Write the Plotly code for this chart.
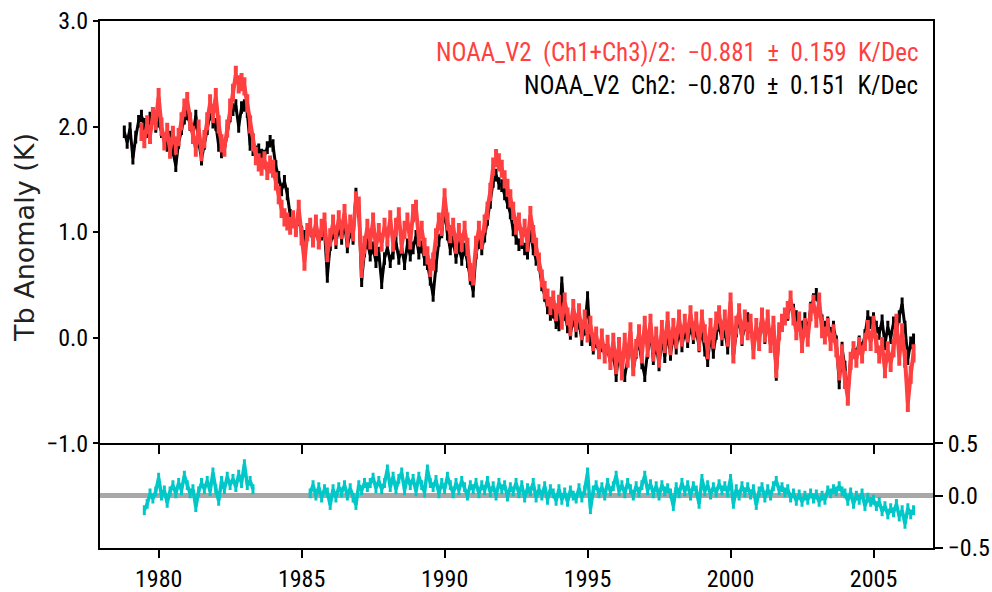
import numpy as np
import plotly.graph_objects as go

# NOAA_V2 (Ch1+Ch3)/2 brightness-temperature anomaly (K), every 0.1 yr from 1979.4
red_start = 1979.4
red_vals = [
    1.95, 1.88, 2.02, 1.92, 2.10, 2.05,
    2.28, 2.00, 1.86, 1.95, 1.78, 1.92, 1.82, 1.90, 2.05, 2.18,
    2.24, 2.05, 1.92, 1.80, 1.98, 1.76, 1.88, 2.05, 2.22, 2.12,
    2.28, 2.02, 1.84, 1.80, 1.98, 2.18, 2.32, 2.49, 2.40, 2.42,
    2.38, 2.22, 2.02, 1.85, 1.72, 1.66, 1.62, 1.68, 1.58, 1.64,
    1.60, 1.48, 1.35, 1.22, 1.14, 1.10, 1.06, 1.12, 1.04, 1.22,
    0.96, 0.72, 1.00, 1.05, 0.94, 1.08, 0.92, 1.04, 1.10, 0.80,
    0.95, 1.08, 0.96, 1.12, 1.02, 1.18, 0.94, 1.08, 1.00, 1.30,
    1.25, 0.65, 0.88, 1.04, 0.92, 1.10, 0.86, 1.00, 0.90, 1.05,
    0.95, 1.12, 0.90, 1.05, 1.15, 0.88, 1.02, 1.10, 0.92, 1.18,
    1.22, 0.95, 1.02, 0.86, 0.78, 0.66, 0.72, 0.95, 1.10, 1.05,
    1.33, 1.10, 0.98, 1.05, 0.88, 1.00, 0.90, 1.02, 0.86, 0.62,
    0.58, 0.88, 1.02, 0.92, 1.08, 1.20, 1.38, 1.62, 1.70, 1.66,
    1.60, 1.50, 1.42, 1.32, 1.20, 1.06, 1.10, 0.96, 1.04, 0.90,
    1.16, 0.98, 0.86, 0.72, 0.56, 0.45, 0.38, 0.30, 0.36, 0.24,
    0.32, 0.16, 0.34, 0.20, 0.10, 0.28, 0.14, 0.24, 0.06, 0.18,
    0.04, 0.12, -0.04, 0.02, -0.12, 0.00, -0.16, -0.06, -0.22, -0.04,
    -0.26, -0.08, -0.32, -0.04, -0.20, 0.06, -0.28, -0.10, 0.04, -0.16,
    0.12, -0.10, 0.14, -0.14, 0.02, -0.20, 0.08, -0.06, 0.16, -0.08,
    0.10, -0.02, 0.18, 0.00, 0.14, 0.04, 0.22, 0.06, 0.16, -0.04,
    0.18, 0.04, -0.12, 0.10, -0.02, 0.16, 0.22, 0.06, 0.18, 0.00,
    0.34, -0.16, 0.12, 0.24, 0.02, 0.18, 0.06, 0.14, -0.12, 0.10,
    -0.04, 0.20, 0.04, 0.18, -0.06, 0.12, -0.30, 0.06, 0.14, 0.20,
    0.26, 0.36, 0.20, 0.06, 0.16, -0.06, 0.10, 0.00, 0.24, 0.32,
    0.18, 0.34, 0.08, 0.02, 0.10, -0.04, 0.04, -0.10, -0.32, -0.15,
    -0.40, -0.56, -0.22, -0.12, -0.20, -0.08, -0.16, -0.04, 0.08, -0.04,
    0.12, -0.06, -0.16, -0.08, -0.30, -0.12, -0.24, -0.10, 0.14, -0.18,
    0.05, -0.20, -0.62, -0.35, -0.15,
]

# NOAA_V2 Ch2 anomaly (K), every 0.1 yr from 1978.8
black_start = 1978.8
black_vals = [
    1.95, 1.85,
    1.98, 1.70, 1.90, 2.05, 2.10, 2.02, 1.95, 2.08, 2.12, 2.00,
    2.05, 1.95, 1.88, 1.82, 1.90, 1.78, 1.63, 1.85, 1.98, 2.08,
    2.12, 2.02, 1.92, 2.10, 1.86, 1.69, 1.84, 1.98, 2.12, 2.04,
    2.02, 1.82, 1.76, 1.78, 1.96, 2.10, 2.16, 2.20, 2.00, 2.18,
    2.20, 2.14, 1.83, 1.78, 1.76, 1.78, 1.73, 1.72, 1.80, 1.86,
    1.82, 1.62, 1.52, 1.40, 1.48, 1.36, 1.16, 1.10, 1.04, 1.12,
    1.00, 0.96, 0.98, 1.02, 0.92, 1.04, 0.90, 0.98, 1.02, 0.58,
    0.88, 1.00, 0.90, 1.04, 0.94, 1.08, 0.86, 1.00, 0.94, 1.36,
    1.20, 0.54, 0.82, 0.90, 0.78, 0.85, 0.72, 0.80, 0.52, 0.75,
    0.85, 0.72, 0.80, 0.90, 0.75, 0.85, 0.70, 0.88, 0.78, 0.85,
    0.96, 0.80, 0.86, 0.74, 0.70, 0.55, 0.40, 0.68, 0.92, 1.00,
    1.22, 0.98, 0.84, 0.92, 0.76, 0.86, 0.74, 0.84, 0.72, 0.56,
    0.44, 0.80, 0.90, 0.84, 0.96, 1.12, 1.28, 1.48, 1.54, 1.46,
    1.44, 1.36, 1.28, 1.18, 1.02, 0.94, 0.88, 0.90, 0.84, 0.80,
    1.02, 0.84, 0.74, 0.70, 0.50, 0.40, 0.28, 0.22, 0.24, 0.14,
    0.12, 0.52, 0.22, 0.10, 0.04, 0.18, 0.06, 0.14, -0.02, 0.08,
    0.38, -0.02, -0.10, -0.04, -0.14, -0.08, -0.12, -0.10, -0.24, -0.14,
    -0.36, -0.14, -0.30, -0.36, -0.22, -0.02, -0.30, -0.14, -0.04, -0.24,
    -0.36, -0.14, 0.04, -0.20, -0.06, -0.26, 0.00, -0.18, 0.06, -0.16,
    0.02, -0.10, 0.08, -0.08, 0.06, -0.04, 0.10, 0.00, 0.06, -0.08,
    0.08, -0.12, -0.22, 0.02, -0.14, 0.04, 0.12, -0.02, 0.06, -0.10,
    0.30, -0.18, 0.06, 0.18, -0.02, 0.12, 0.18, 0.10, -0.06, 0.06,
    0.02, 0.18, 0.00, 0.16, -0.08, 0.10, -0.35, 0.04, 0.12, 0.20,
    0.22, 0.32, 0.26, 0.20, 0.14, 0.10, 0.18, 0.06, 0.28, 0.36,
    0.41, 0.30, 0.16, 0.10, 0.14, 0.04, 0.10, -0.04, -0.43, -0.10,
    -0.28, -0.57, -0.20, -0.10, -0.16, -0.04, -0.10, 0.02, 0.20, 0.14,
    0.18, 0.10, 0.04, 0.16, -0.06, 0.10, 0.00, 0.14, 0.06, 0.20,
    0.32, 0.10, -0.20, -0.05, -0.02,
]

# Channel difference (K), two continuous records, every 0.1 yr
diff1_start = 1979.5
diff1_vals = [
    -0.14, -0.08, 0.02, -0.03, 0.04,
    0.17, 0.00, 0.05, -0.07, 0.04, 0.10, 0.02, 0.12, 0.05, 0.19,
    0.10, 0.02, 0.06, -0.11, 0.04, 0.12, 0.06, 0.14, 0.04, 0.22,
    0.06, -0.05, 0.14, 0.06, 0.18, 0.10, 0.16, 0.08, 0.20, 0.12,
    0.30, 0.10, 0.14, 0.06,
]
diff2_start = 1985.3
diff2_vals = [
    0.02, 0.10, 0.00, 0.08, -0.02, 0.06, 0.03,
    -0.09, 0.06, -0.02, 0.08, 0.03, 0.10, 0.00, 0.07, -0.02, -0.09,
    0.10, 0.05, 0.12, 0.08, 0.12, 0.17, 0.07, 0.14, 0.06, 0.12,
    0.25, 0.08, 0.18, 0.06, 0.16, 0.22, 0.05, 0.18, 0.10, 0.16,
    0.04, 0.18, 0.10, 0.03, 0.25, 0.12, 0.08, 0.15, 0.02, 0.12,
    0.06, 0.18, 0.10, 0.02, 0.12, 0.05, 0.14, 0.08, 0.00, 0.10,
    0.06, 0.12, 0.02, 0.10, 0.05, 0.14, 0.03, 0.09, 0.00, 0.12,
    0.06, 0.10, -0.01, 0.08, 0.04, 0.12, 0.02, 0.10, -0.02, 0.07,
    0.04, 0.12, -0.02, 0.06, 0.00, 0.09, -0.04, 0.06, 0.02, -0.05,
    0.06, -0.04, 0.03, -0.06, 0.05, 0.00, -0.03, 0.07, -0.02, 0.05,
    0.22, -0.13, 0.05, 0.10, 0.02, 0.08, 0.00, 0.12, 0.04, 0.09,
    0.19, 0.04, 0.10, 0.02, 0.12, 0.06, 0.00, 0.09, 0.03, 0.10,
    0.19, 0.05, 0.11, 0.02, 0.09, 0.00, 0.10, 0.04, 0.07, 0.02,
    -0.10, 0.08, 0.02, 0.12, 0.04, 0.10, 0.00, 0.09, 0.05, -0.08,
    0.16, 0.04, 0.10, 0.01, 0.08, 0.03, 0.11, 0.05, 0.09, 0.03,
    0.16, -0.08, 0.06, 0.00, 0.09, 0.03, 0.08, 0.01, 0.06, -0.09,
    0.04, 0.08, -0.02, 0.06, 0.00, 0.09, 0.14, 0.05, 0.08, 0.03,
    0.06, -0.02, 0.02, -0.05, 0.01, -0.06, 0.00, -0.04, 0.02, -0.03,
    0.01, -0.06, 0.00, -0.04, 0.05, 0.02, 0.06, 0.04, 0.09, 0.04,
    0.02, -0.05, 0.03, -0.08, 0.00, -0.04, 0.02, -0.10, -0.02, -0.06,
    -0.04, -0.10, -0.06, -0.15, -0.10, -0.18, -0.12, -0.16, -0.08, -0.20,
    -0.14, -0.27, -0.12, -0.18, -0.14,
]

year_ticks = [1980, 1985, 1990, 1995, 2000, 2005]
main_ticks = [-1.0, 0.0, 1.0, 2.0, 3.0]
diff_ticks = [-0.5, 0.0, 0.5]
red_label = "NOAA_V2  (Ch1+Ch3)/2:  \u22120.881  \u00b1  0.159  K/Dec"
black_label = "NOAA_V2  Ch2:  \u22120.870  \u00b1  0.151  K/Dec"

STEP = 0.1


def times(start, n):
    return np.round(start + STEP * np.arange(n), 2)


RED = "#ff4040"
CYAN = "#00c8c8"
NARROW = "Roboto Condensed, Liberation Sans Narrow, DejaVu Sans Condensed, sans-serif"
X_RANGE = [1977.95, 2007.08]

fig = go.Figure()

fig.add_trace(go.Scatter(
    x=times(black_start, len(black_vals)), y=black_vals,
    xaxis="x2", yaxis="y", mode="lines+markers",
    line=dict(color="black", width=3),
    marker=dict(symbol="line-ns", size=9, line=dict(color="black", width=3)),
    showlegend=False,
))
fig.add_trace(go.Scatter(
    x=times(red_start, len(red_vals)), y=red_vals,
    xaxis="x2", yaxis="y", mode="lines+markers",
    line=dict(color=RED, width=4),
    marker=dict(symbol="line-ns", size=13, line=dict(color=RED, width=4)),
    showlegend=False,
))
for start, vals in ((diff1_start, diff1_vals), (diff2_start, diff2_vals)):
    fig.add_trace(go.Scatter(
        x=times(start, len(vals)), y=vals,
        xaxis="x", yaxis="y2", mode="lines+markers",
        line=dict(color=CYAN, width=3.5),
        marker=dict(symbol="line-ns", size=7, line=dict(color=CYAN, width=3)),
        showlegend=False,
    ))

# zero reference in the difference panel
fig.add_shape(type="line", xref="x", yref="y2", x0=X_RANGE[0], x1=X_RANGE[1],
              y0=0, y1=0, line=dict(color="#a8a8a8", width=5), layer="below")

axis_common = dict(showline=True, linecolor="black", linewidth=2,
                   showgrid=False, zeroline=False, ticks="outside",
                   tickcolor="black", tickwidth=2, automargin=False)

tick_font = dict(family=NARROW, size=24, color="black")

fig.update_layout(
    width=992, height=592,
    margin=dict(l=100, r=59, t=21, b=44),
    paper_bgcolor="white", plot_bgcolor="white",
    xaxis=dict(anchor="y2", range=X_RANGE, tickvals=year_ticks, ticklen=8,
               tickfont=tick_font, ticklabelstandoff=0, **axis_common),
    xaxis2=dict(anchor="y", matches="x", range=X_RANGE, tickvals=year_ticks,
                ticklen=9, showticklabels=False, mirror=True, **axis_common),
    yaxis=dict(anchor="x2", domain=[0.199, 1.0], range=[-1.0, 3.0],
               tickvals=main_ticks, tickformat=".1f", ticklen=5, mirror=True,
               tickfont=tick_font, **axis_common),
    yaxis2=dict(anchor="x", domain=[0.0, 0.199], range=[-0.5, 0.5],
                side="right", tickvals=diff_ticks, tickformat=".1f",
                ticklen=8, mirror=True, tickfont=tick_font, **axis_common),
)

fig.add_annotation(text="Tb Anomaly (K)", xref="paper", yref="paper",
                   x=-0.0913, y=0.59, textangle=-90, showarrow=False,
                   xanchor="center", yanchor="middle",
                   font=dict(family="DejaVu Sans", size=27, color="#222222"))
fig.add_annotation(text=red_label, xref="paper", yref="paper",
                   x=0.9848, y=0.9407, xanchor="right", yanchor="middle",
                   showarrow=False,
                   font=dict(family=NARROW, size=25, color=RED))
fig.add_annotation(text=black_label, xref="paper", yref="paper",
                   x=0.9848, y=0.878, xanchor="right", yanchor="middle",
                   showarrow=False,
                   font=dict(family=NARROW, size=25, color="black"))

fig.write_html("out.html")
